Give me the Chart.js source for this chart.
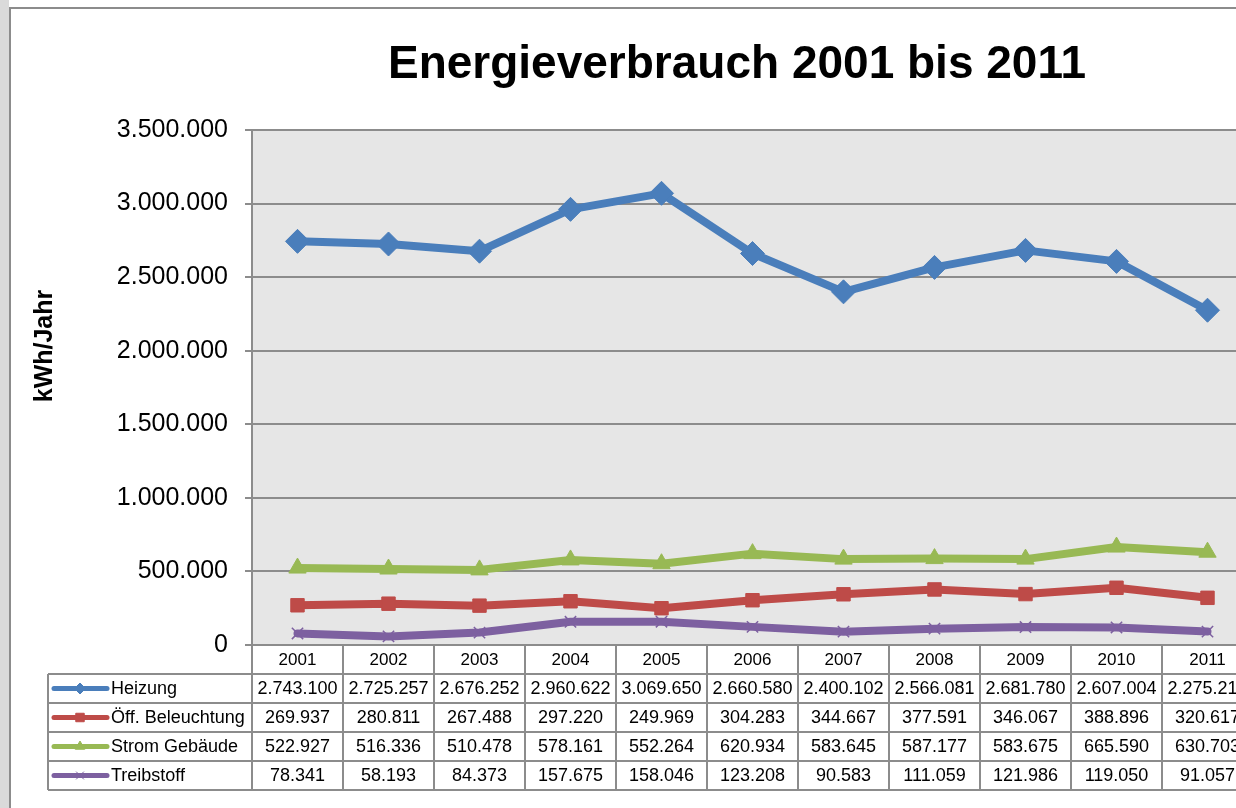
<!DOCTYPE html>
<html lang="de">
<head>
  <meta charset="UTF-8" />
  <title>Energieverbrauch 2001 bis 2011</title>
  <script src="https://cdn.jsdelivr.net/npm/chart.js"></script>
  <style>
    html, body {
      margin: 0;
      padding: 0;
      background: #ffffff;
      overflow: hidden;
      width: 1236px;
      height: 808px;
    }
    #wrap {
      position: absolute;
      left: 0;
      top: 0;
      width: 1270px;
      height: 808px;
    }
  </style>
</head>
<body>
  <div id="wrap">
    <canvas id="myChart" width="1270" height="808"></canvas>
  </div>

  <script>
    const years = ['2001', '2002', '2003', '2004', '2005', '2006', '2007', '2008', '2009', '2010', '2011'];
    const heizung = [2743100, 2725257, 2676252, 2960622, 3069650, 2660580, 2400102, 2566081, 2681780, 2607004, 2275210];
    const beleuchtung = [269937, 280811, 267488, 297220, 249969, 304283, 344667, 377591, 346067, 388896, 320617];
    const stromGebaeude = [522927, 516336, 510478, 578161, 552264, 620934, 583645, 587177, 583675, 665590, 630703];
    const treibstoff = [78341, 58193, 84373, 157675, 158046, 123208, 90583, 111059, 121986, 119050, 91057];

    const seriesNames = ['Heizung', 'Öff. Beleuchtung', 'Strom Gebäude', 'Treibstoff'];
    const yTicksMax = 3500000;
    const yTicksStep = 500000;

    const FONT = "'Liberation Sans', Arial, sans-serif";
    const GRID = '#8c8c8c';

    function fmt(n) {
      return String(Math.round(n)).replace(/\B(?=(\d{3})+(?!\d))/g, '.');
    }

    Chart.defaults.font.family = FONT;
    Chart.defaults.color = '#000000';

    // Hintergrund, Rahmen, Titel und Datentabelle
    const decorations = {
      id: 'decorations',
      beforeDraw(chart) {
        const ctx = chart.ctx;
        const a = chart.chartArea;
        ctx.save();
        ctx.fillStyle = '#ffffff';
        ctx.fillRect(0, 0, chart.width, chart.height);
        // grauer Rand links
        ctx.fillStyle = '#dadada';
        ctx.fillRect(0, 0, 9, chart.height);
        ctx.strokeStyle = '#8c8c8c';
        ctx.lineWidth = 2;
        ctx.beginPath();
        ctx.moveTo(10, chart.height);
        ctx.lineTo(10, 8);
        ctx.lineTo(chart.width, 8);
        ctx.stroke();
        // Zeichnungsfläche
        ctx.fillStyle = '#e6e6e6';
        ctx.fillRect(a.left, a.top, a.right - a.left, a.bottom - a.top);
        ctx.restore();
      },
      afterDraw(chart) {
        const ctx = chart.ctx;
        const a = chart.chartArea;
        const x = chart.scales.x;
        const colors = chart.data.datasets.map(d => d.borderColor);
        ctx.save();

        // Titel
        ctx.fillStyle = '#000000';
        ctx.textAlign = 'center';
        ctx.textBaseline = 'middle';
        ctx.font = 'bold 46px ' + FONT;
        ctx.fillText('Energieverbrauch 2001 bis 2011', 737, 65);

        // Achsentitel
        ctx.save();
        ctx.translate(45, 346);
        ctx.rotate(-Math.PI / 2);
        ctx.font = 'bold 25px ' + FONT;
        ctx.fillText('kWh/Jahr', 0, 0);
        ctx.restore();

        // Datentabelle
        const rowH = 29;
        const top = a.bottom;
        const colW = x.getPixelForValue(1) - x.getPixelForValue(0);
        const nRows = seriesNames.length + 1;
        const bottom = top + rowH * nRows;
        const legLeft = 48;

        ctx.strokeStyle = GRID;
        ctx.lineWidth = 2;
        ctx.beginPath();
        // horizontale Linien
        for (let r = 1; r <= nRows; r++) {
          const yy = top + r * rowH;
          ctx.moveTo(legLeft, yy);
          ctx.lineTo(chart.width, yy);
        }
        ctx.moveTo(a.left, top);
        ctx.lineTo(chart.width, top);
        // vertikale Linien
        ctx.moveTo(legLeft, top + rowH);
        ctx.lineTo(legLeft, bottom);
        for (let i = 0; i <= years.length; i++) {
          const xx = x.getPixelForValue(0) - colW / 2 + i * colW;
          ctx.moveTo(xx, top);
          ctx.lineTo(xx, bottom);
        }
        ctx.stroke();

        // Jahre
        ctx.font = '17px ' + FONT;
        ctx.textAlign = 'center';
        years.forEach((yr, i) => {
          ctx.fillText(yr, x.getPixelForValue(i), top + rowH / 2 + 1);
        });

        // Werte und Legende
        chart.data.datasets.forEach((ds, r) => {
          const cy = top + (r + 1) * rowH + rowH / 2 + 1;
          ctx.font = '18px ' + FONT;
          ctx.textAlign = 'center';
          ctx.fillStyle = '#000000';
          ds.data.forEach((v, i) => {
            ctx.fillText(fmt(v), x.getPixelForValue(i), cy);
          });
          // Legendensymbol
          ctx.strokeStyle = colors[r];
          ctx.fillStyle = colors[r];
          ctx.lineWidth = 5;
          ctx.lineCap = 'round';
          ctx.beginPath();
          ctx.moveTo(54, cy - 1);
          ctx.lineTo(107, cy - 1);
          ctx.stroke();
          ctx.lineCap = 'butt';
          ctx.lineWidth = 1;
          Chart.helpers.drawPoint(ctx, {
            pointStyle: ds.pointStyle,
            radius: ds.pointStyle === 'rect' ? 6 : 5.5,
            borderWidth: 1,
            rotation: 0
          }, 80, cy - 1);
          ctx.fillStyle = '#000000';
          ctx.textAlign = 'left';
          ctx.fillText(seriesNames[r], 111, cy);
        });

        ctx.restore();
      }
    };

    const ctx = document.getElementById('myChart').getContext('2d');
    const chart = new Chart(ctx, {
      type: 'line',
      data: {
        labels: years,
        datasets: [
          {
            label: seriesNames[0],
            data: heizung,
            borderColor: '#4a7ebb',
            backgroundColor: '#4a7ebb',
            borderWidth: 8,
            pointStyle: 'rectRot',
            pointRadius: 12,
            pointBorderWidth: 1
          },
          {
            label: seriesNames[1],
            data: beleuchtung,
            borderColor: '#be4b48',
            backgroundColor: '#be4b48',
            borderWidth: 8,
            pointStyle: 'rect',
            pointRadius: 9.5,
            pointBorderWidth: 1
          },
          {
            label: seriesNames[2],
            data: stromGebaeude,
            borderColor: '#98b954',
            backgroundColor: '#98b954',
            borderWidth: 8,
            pointStyle: 'triangle',
            pointRadius: 10,
            pointBorderWidth: 1
          },
          {
            label: seriesNames[3],
            data: treibstoff,
            borderColor: '#7d60a0',
            backgroundColor: '#7d60a0',
            borderWidth: 8,
            pointStyle: 'crossRot',
            pointRadius: 8,
            pointBorderWidth: 1.5
          }
        ]
      },
      options: {
        animation: false,
        responsive: false,
        devicePixelRatio: 1,
        layout: {
          padding: { left: 0, right: 17, top: 130, bottom: 0 }
        },
        elements: {
          line: { tension: 0, borderJoinStyle: 'round', borderCapStyle: 'round' }
        },
        plugins: {
          legend: { display: false },
          title: { display: false },
          tooltip: { enabled: false }
        },
        scales: {
          x: {
            type: 'category',
            offset: true,
            afterFit(scale) { scale.height = 163; },
            grid: { display: true, offset: true, drawOnChartArea: false, drawTicks: false, color: GRID },
            border: { display: true, color: GRID, width: 2 },
            ticks: { display: false }
          },
          y: {
            min: 0,
            max: yTicksMax,
            afterFit(scale) { scale.width = 252; },
            ticks: {
              stepSize: yTicksStep,
              padding: 17,
              font: { size: 25 },
              color: '#000000',
              callback: (v) => fmt(v)
            },
            grid: { color: GRID, lineWidth: 2, tickLength: 7 },
            border: { display: true, color: GRID, width: 2 }
          }
        }
      },
      plugins: [decorations]
    });
  </script>
</body>
</html>
